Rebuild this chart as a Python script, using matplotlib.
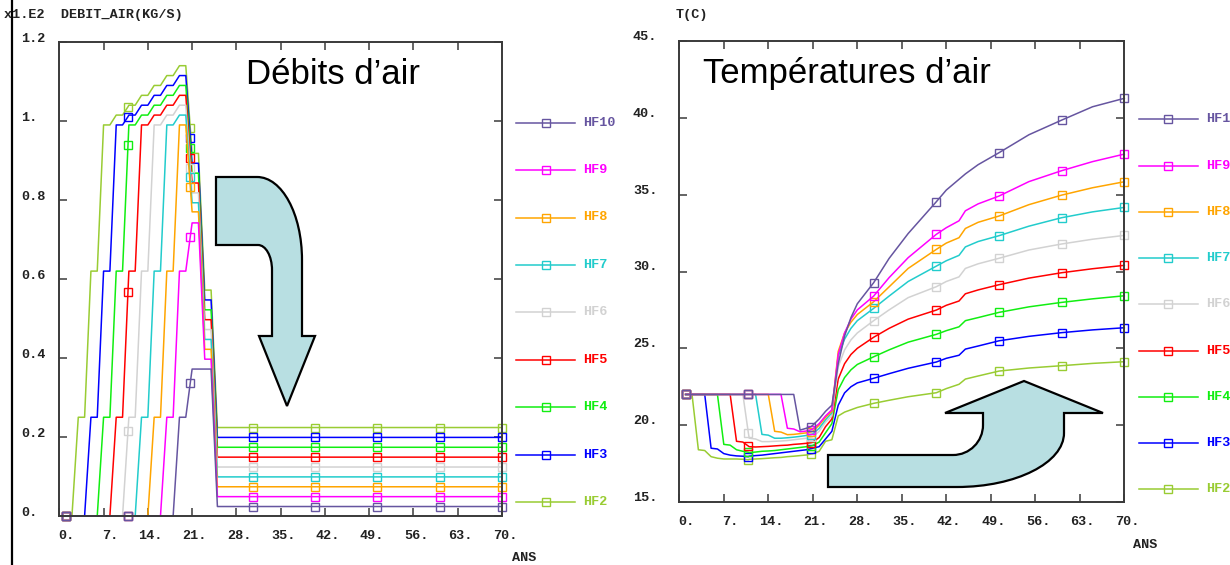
import numpy as np
import matplotlib
matplotlib.use("Agg")
import matplotlib.pyplot as plt
import matplotlib.transforms as mtransforms
from matplotlib.path import Path
from matplotlib.patches import PathPatch
from matplotlib.lines import Line2D

# ---------------- data ----------------
NAMES = ["HF2", "HF3", "HF4", "HF5", "HF6", "HF7", "HF8", "HF9", "HF10"]
COLORS = ["#99cc33", "#0000ff", "#11ee11", "#ff0000", "#d2d2d2",
          "#22cccc", "#ffa500", "#ff00ff", "#6655a0"]

X_TICKS = [0, 7, 14, 21, 28, 35, 42, 49, 56, 63, 70]
X_LABELS = ["0.", "7.", "14.", "21.", "28.", "35.", "42.", "49.", "56.", "63.", "70."]
Y1_TICKS = [0, 0.2, 0.4, 0.6, 0.8, 1.0, 1.2]
Y1_LABELS = ["0.", "0.2", "0.4", "0.6", "0.8", "1.", "1.2"]
Y2_TICKS = [15, 20, 25, 30, 35, 40, 45]
Y2_LABELS = ["15.", "20.", "25.", "30.", "35.", "40.", "45."]

# Débits d'air (x 1.E2 kg/s)
LEFT_T = [1, 2, 3, 4, 5, 6, 7, 8, 9, 10, 10.86, 11, 12, 13, 14, 15, 16, 17, 18, 19, 20,
          20.71, 21, 22, 23, 24, 25, 30.57, 40.43, 50.29, 60.14, 70]
LEFT_MARK = [0, 10, 21, 27, 28, 29, 30, 31]
DEB_HF2 = [0, 0, 0.25, 0.25, 0.62, 0.62, 0.99, 0.99, 1.015, 1.015, 1.036, 1.04, 1.04, 1.065, 1.065,
           1.09, 1.09, 1.115, 1.115, 1.14, 1.14, 0.982, 0.918, 0.918, 0.572, 0.572, 0.224,
           0.224, 0.224, 0.224, 0.224, 0.224]
DEB_HF3 = [0, 0, 0, 0, 0.25, 0.25, 0.62, 0.62, 0.99, 0.99, 1.011, 1.015, 1.015, 1.04, 1.04,
           1.065, 1.065, 1.09, 1.09, 1.115, 1.115, 0.957, 0.893, 0.893, 0.547, 0.547, 0.199,
           0.199, 0.199, 0.199, 0.199, 0.199]
DEB_HF4 = [0, 0, 0, 0, 0, 0, 0.25, 0.25, 0.62, 0.62, 0.938, 0.99, 0.99, 1.015, 1.015,
           1.04, 1.04, 1.065, 1.065, 1.09, 1.09, 0.932, 0.868, 0.868, 0.522, 0.522, 0.174,
           0.174, 0.174, 0.174, 0.174, 0.174]
DEB_HF5 = [0, 0, 0, 0, 0, 0, 0, 0, 0.25, 0.25, 0.568, 0.62, 0.62, 0.99, 0.99,
           1.015, 1.015, 1.04, 1.04, 1.065, 1.065, 0.907, 0.843, 0.843, 0.497, 0.497, 0.149,
           0.149, 0.149, 0.149, 0.149, 0.149]
DEB_HF6 = [0, 0, 0, 0, 0, 0, 0, 0, 0, 0, 0.215, 0.25, 0.25, 0.62, 0.62,
           0.99, 0.99, 1.015, 1.015, 1.04, 1.04, 0.882, 0.818, 0.818, 0.472, 0.472, 0.124,
           0.124, 0.124, 0.124, 0.124, 0.124]
DEB_HF7 = [0, 0, 0, 0, 0, 0, 0, 0, 0, 0, 0, 0, 0, 0.25, 0.25,
           0.62, 0.62, 0.99, 0.99, 1.015, 1.015, 0.857, 0.793, 0.793, 0.447, 0.447, 0.099,
           0.099, 0.099, 0.099, 0.099, 0.099]
DEB_HF8 = [0, 0, 0, 0, 0, 0, 0, 0, 0, 0, 0, 0, 0, 0, 0,
           0.25, 0.25, 0.62, 0.62, 0.99, 0.99, 0.834, 0.77, 0.77, 0.422, 0.422, 0.074,
           0.074, 0.074, 0.074, 0.074, 0.074]
DEB_HF9 = [0, 0, 0, 0, 0, 0, 0, 0, 0, 0, 0, 0, 0, 0, 0,
           0, 0, 0.25, 0.25, 0.62, 0.62, 0.707, 0.742, 0.742, 0.397, 0.397, 0.049,
           0.049, 0.049, 0.049, 0.049, 0.049]
DEB_HF10 = [0, 0, 0, 0, 0, 0, 0, 0, 0, 0, 0, 0, 0, 0, 0,
            0, 0, 0, 0, 0.25, 0.25, 0.337, 0.372, 0.372, 0.372, 0.372, 0.024,
            0.024, 0.024, 0.024, 0.024, 0.024]
DEBITS = [DEB_HF2, DEB_HF3, DEB_HF4, DEB_HF5, DEB_HF6, DEB_HF7, DEB_HF8, DEB_HF9, DEB_HF10]

# Températures d'air (°C)
RIGHT_T = [1, 2, 3, 4, 5, 6, 7, 8, 9, 10, 10.86, 11, 12, 13, 14, 15, 16, 17, 18, 19, 20,
           20.71, 21, 22, 23, 24, 25, 26, 27, 28, 30.57, 33, 36, 40.43, 42, 44, 45, 47,
           50.29, 55, 60.14, 65, 70]
RIGHT_MARK = [0, 10, 21, 30, 33, 38, 40, 42]
TEMP_HF2 = [22, 22, 18.4, 18.35, 17.95, 17.85, 17.8, 17.8, 17.8, 17.78, 17.75,
            17.78, 17.8, 17.82, 17.85, 17.88, 17.9, 17.95, 17.98, 18.02, 18.06, 18.12,
            18.14, 18.3, 18.95, 19.05, 20.6, 20.85, 21.0, 21.15,
            21.42, 21.62, 21.85, 22.11, 22.38, 22.66, 23.0, 23.2, 23.52, 23.72, 23.87, 24.02, 24.13]
TEMP_HF3 = [22, 22, 22, 22, 18.5, 18.45, 18.15, 18.05, 18.0, 17.98, 17.95,
            17.98, 18.02, 18.05, 18.1, 18.15, 18.2, 18.25, 18.3, 18.35, 18.4, 18.47,
            18.5, 18.6, 19.1, 19.6, 21.3, 22.1, 22.5, 22.75,
            23.05, 23.35, 23.7, 24.11, 24.35, 24.55, 24.95, 25.15, 25.49, 25.78, 26.02, 26.2, 26.34]
TEMP_HF4 = [22, 22, 22, 22, 22, 22, 18.75, 18.7, 18.4, 18.3, 18.24,
            18.22, 18.25, 18.3, 18.32, 18.35, 18.4, 18.45, 18.5, 18.55, 18.6, 18.65,
            18.68, 18.9, 19.5, 20.1, 22.3, 23.1, 23.6, 23.95,
            24.45, 24.9, 25.4, 25.91, 26.15, 26.4, 26.8, 27.0, 27.34, 27.7, 27.99, 28.22, 28.42]
TEMP_HF5 = [22, 22, 22, 22, 22, 22, 22, 22, 18.95, 18.9, 18.64,
            18.6, 18.58, 18.6, 18.62, 18.65, 18.68, 18.7, 18.75, 18.78, 18.82, 18.86,
            18.9, 19.2, 19.9, 20.4, 23.0, 24.0, 24.6, 25.0,
            25.72, 26.3, 26.9, 27.49, 27.8, 28.08, 28.55, 28.8, 29.14, 29.57, 29.92, 30.18, 30.4]
TEMP_HF6 = [22, 22, 22, 22, 22, 22, 22, 22, 22, 22, 19.5,
            19.15, 19.1, 18.93, 18.93, 18.95, 18.97, 19.0, 19.05, 19.1, 19.15, 19.22,
            19.25, 19.6, 20.2, 20.6, 23.8, 24.9, 25.55, 26.0,
            26.8, 27.5, 28.3, 29.01, 29.35, 29.65, 30.2, 30.5, 30.86, 31.4, 31.79, 32.1, 32.35]
TEMP_HF7 = [22, 22, 22, 22, 22, 22, 22, 22, 22, 22, 22,
            22, 22, 19.4, 19.35, 19.15, 19.15, 19.18, 19.22, 19.27, 19.33, 19.38,
            19.42, 19.8, 20.35, 20.8, 24.5, 25.6, 26.3, 26.8,
            27.6, 28.4, 29.35, 30.35, 30.7, 31.05, 31.6, 31.95, 32.33, 32.95, 33.5, 33.88, 34.17]
TEMP_HF8 = [22, 22, 22, 22, 22, 22, 22, 22, 22, 22, 22,
            22, 22, 22, 22, 19.6, 19.55, 19.38, 19.4, 19.45, 19.5, 19.57,
            19.6, 20.0, 20.5, 20.9, 24.8, 26.0, 26.7, 27.2,
            28.03, 29.0, 30.2, 31.44, 31.85, 32.2, 32.8, 33.2, 33.61, 34.35, 34.97, 35.45, 35.84]
TEMP_HF9 = [22, 22, 22, 22, 22, 22, 22, 22, 22, 22, 22,
            22, 22, 22, 22, 22, 22, 19.8, 19.75, 19.57, 19.62, 19.7,
            19.75, 20.1, 20.6, 21.0, 24.6, 26.0, 26.9, 27.5,
            28.4, 29.6, 30.9, 32.42, 32.85, 33.3, 33.95, 34.4, 34.91, 35.85, 36.56, 37.15, 37.64]
TEMP_HF10 = [22, 22, 22, 22, 22, 22, 22, 22, 22, 22, 22,
             22, 22, 22, 22, 22, 22, 22, 22, 19.68, 19.8, 19.9,
             20.0, 20.4, 20.9, 21.3, 24.0, 25.8, 27.0, 27.9,
             29.27, 30.85, 32.47, 34.54, 35.3, 36.0, 36.35, 36.95, 37.73, 38.9, 39.85, 40.72, 41.27]
TEMPS = [TEMP_HF2, TEMP_HF3, TEMP_HF4, TEMP_HF5, TEMP_HF6, TEMP_HF7, TEMP_HF8, TEMP_HF9, TEMP_HF10]

# ---------------- figure ----------------
W, H = 1230, 565
fig = plt.figure(figsize=(W / 100, H / 100), dpi=100)
PX = mtransforms.Affine2D().scale(1 / W, -1 / H).translate(0, 1) + fig.transFigure

MONO = dict(family="Liberation Mono", weight="bold", size=9.7)
SPINE = "#3a3a3a"
MS = 6.3


def axes_px(l, t, r, b):
    return fig.add_axes([l / W, 1 - b / H, (r - l) / W, (b - t) / H])


ax1 = axes_px(59.3, 42, 502, 516)
ax2 = axes_px(679.3, 41, 1124.3, 502)

for ax, yt in ((ax1, Y1_TICKS), (ax2, Y2_TICKS)):
    ax.set_xlim(0, 70)
    ax.set_xticks(X_TICKS)
    ax.set_yticks(yt)
    ax.set_xticklabels([])
    ax.set_yticklabels([])
    ax.tick_params(direction="in", length=6, width=1.1, color=SPINE,
                   top=True, right=True)
    for s in ax.spines.values():
        s.set_color(SPINE)
        s.set_linewidth(1.4)
    xt = mtransforms.offset_copy(ax.get_xaxis_transform(), fig=fig, x=15, y=-20, units="dots")
    for v, lab in zip(X_TICKS, X_LABELS):
        ax.text(v, 0, lab, transform=xt, ha="right", va="center", color="#222222", **MONO)

ax1.set_ylim(0, 1.2)
ax2.set_ylim(15, 45)

yt1 = mtransforms.offset_copy(ax1.get_yaxis_transform(), fig=fig, x=-38, y=3, units="dots")
for v, lab in zip(Y1_TICKS, Y1_LABELS):
    ax1.text(0, v, lab, transform=yt1, ha="left", va="center", color="#222222", **MONO)
yt2 = mtransforms.offset_copy(ax2.get_yaxis_transform(), fig=fig, x=-22, y=4, units="dots")
for v, lab in zip(Y2_TICKS, Y2_LABELS):
    ax2.text(0, v, lab, transform=yt2, ha="right", va="center", color="#222222", **MONO)

# series
for vals, col in zip(DEBITS, COLORS):
    ax1.plot(LEFT_T, vals, color=col, lw=1.1, marker="s", ms=MS, mfc="none", mew=1.0,
             markevery=LEFT_MARK, clip_on=False)
for vals, col in zip(TEMPS, COLORS):
    ax2.plot(RIGHT_T, vals, color=col, lw=1.1, marker="s", ms=MS, mfc="none", mew=1.0,
             markevery=RIGHT_MARK, clip_on=False)

# legends (drawn manually, HF10 on top)
def legend(x0, x1, xm, xt, ytop, step):
    for i, (name, col) in enumerate(zip(NAMES[::-1], COLORS[::-1])):
        y = ytop + i * step
        fig.add_artist(Line2D([x0, x1], [y, y], color=col, lw=1.1, transform=PX))
        fig.add_artist(Line2D([xm], [y], marker="s", ms=MS, mfc="none", mew=1.0,
                              color=col, transform=PX))
        fig.text(xt / W, 1 - y / H, name, color=col, ha="left", va="center", **MONO)


legend(516, 575, 546, 583, 122.7, 47.4)
legend(1139, 1198, 1168, 1206, 119.3, 46.25)

# texts
fig.text(4 / W, 1 - 15 / H, "x1.E2  DEBIT_AIR(KG/S)", ha="left", va="center",
         color="#222222", **MONO)
fig.text(676 / W, 1 - 15 / H, "T(C)", ha="left", va="center", color="#222222", **MONO)
fig.text(512 / W, 1 - 558 / H, "ANS", ha="left", va="center", color="#222222", **MONO)
fig.text(1133 / W, 1 - 545 / H, "ANS", ha="left", va="center", color="#222222", **MONO)
fig.text(246 / W, 1 - 83.5 / H, "Débits d\u2019air", ha="left", va="baseline",
         family="Liberation Sans", size=25, color="black")
fig.text(703 / W, 1 - 83.5 / H, "Températures d\u2019air", ha="left", va="baseline",
         family="Liberation Sans", size=25, color="black")

# slide border line
fig.add_artist(Line2D([12, 12], [0, H], color="black", lw=1.6, transform=PX))

# decorative arrows
ARROW_FILL = "#b8dfe2"
C4 = Path.CURVE4
left_arrow = [
    ((216, 177), Path.MOVETO), ((257, 177), Path.LINETO),
    ((282, 177), C4), ((302, 214), C4), ((302, 260), C4),
    ((302, 336), Path.LINETO), ((315, 336), Path.LINETO), ((287, 406), Path.LINETO),
    ((259, 336), Path.LINETO), ((272, 336), Path.LINETO), ((272, 270), Path.LINETO),
    ((272, 256), C4), ((265.7, 245), C4), ((258, 245), C4),
    ((216, 245), Path.LINETO), ((216, 177), Path.CLOSEPOLY),
]
right_arrow = [
    ((828, 455), Path.MOVETO), ((953, 455), Path.LINETO),
    ((969.6, 455), C4), ((983, 441.6), C4), ((983, 425), C4),
    ((983, 413), Path.LINETO), ((945, 413), Path.LINETO), ((1024, 381), Path.LINETO),
    ((1103, 413), Path.LINETO), ((1064, 413), Path.LINETO), ((1064, 433), Path.LINETO),
    ((1064, 462.8), C4), ((1016, 487), C4), ((957, 487), C4),
    ((828, 487), Path.LINETO), ((828, 455), Path.CLOSEPOLY),
]
for spec in (left_arrow, right_arrow):
    verts, codes = zip(*spec)
    patch = PathPatch(Path(verts, codes), facecolor=ARROW_FILL, edgecolor="black",
                      lw=1.6, transform=PX, joinstyle="miter")
    fig.add_artist(patch)

fig.savefig("out.png", dpi=100)
